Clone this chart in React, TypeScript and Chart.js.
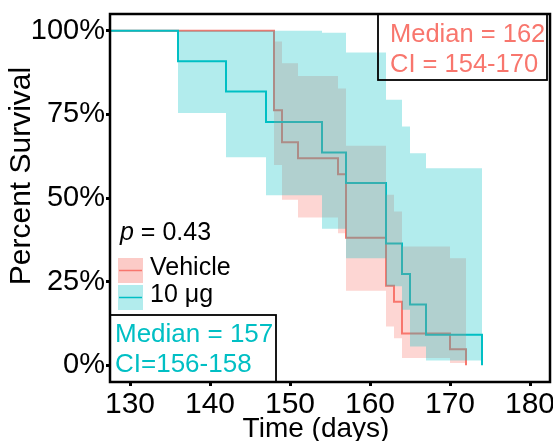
import React, { useEffect, useRef } from 'react';
import { Chart, registerables } from 'chart.js';

Chart.register(...registerables);

// ---- axis ticks ----
const xTicks = [130, 140, 150, 160, 170, 180];
const yTicks = [0, 25, 50, 75, 100];

// ---- Kaplan-Meier steps: event times (days) and survival after each step (%) ----
const vehicleTimes = [148, 149, 151, 156, 157, 162, 163, 164, 170, 172];
const vehicleSurvival = [76.2, 66.7, 61.9, 57.1, 38.1, 23.8, 19.0, 9.5, 4.8, 0];
// confidence band per interval [t_i, t_{i+1})
const vehicleUpper = [96.8, 90.3, 86.5, 82.7, 65.6, 51.0, 46.0, 35.5, 32.0];
const vehicleLower = [59.9, 49.5, 44.2, 39.5, 22.3, 11.6, 8.1, 2.2, 0.7];

const doseTimes = [136, 142, 147, 154, 157, 162, 164, 165, 167, 174];
const doseSurvival = [90.9, 81.8, 72.7, 63.6, 54.5, 36.4, 27.3, 18.2, 9.1, 0];
const doseUpper = [100, 100, 100, 99.4, 93.5, 79.4, 71.4, 63.4, 58.9];
const doseLower = [75.4, 62.2, 50.8, 40.8, 32.0, 23.6, 16.6, 5.6, 1.4];

// ---- text ----
const vehicleLabel = 'Vehicle';
const doseLabel = '10 μg';
const pValueText = ' = 0.43';
const vehicleMedianLines = ['Median = 162', 'CI = 154-170'];
const doseMedianLines = ['Median = 157', 'CI=156-158'];
const xTitle = 'Time (days)';
const yTitle = 'Percent Survival';

const FONT = "'Liberation Sans', Arial, Helvetica, sans-serif";
const RED = '#F8766D';
const CYAN = '#00BFC4';
const RED_FILL = 'rgba(248,118,109,0.3)';
const CYAN_FILL = 'rgba(0,191,196,0.3)';

const curve = (times: number[], surv: number[]) => [
  { x: 0, y: 100 },
  ...times.map((t, i) => ({ x: t, y: surv[i] })),
];
const band = (times: number[], vals: number[]) => [
  ...vals.map((v, i) => ({ x: times[i], y: v })),
  { x: times[times.length - 1], y: vals[vals.length - 1] },
];

export default function App() {
  const ref = useRef<HTMLCanvasElement>(null);

  useEffect(() => {
    const canvas = ref.current;
    if (!canvas) return;

    const annotations = {
      id: 'annotations',
      afterDraw(chart: any) {
        const ctx = chart.ctx as CanvasRenderingContext2D;
        const a = chart.chartArea;
        ctx.save();

        // panel frame
        ctx.strokeStyle = '#000';
        ctx.lineWidth = 2.5;
        ctx.strokeRect(a.left, a.top, a.right - a.left, a.bottom - a.top);

        // top-right median box (vehicle colour)
        ctx.lineWidth = 1.8;
        const trRight = a.right - 3;
        const trLeft = trRight - 169;
        ctx.strokeRect(trLeft, a.top, trRight - trLeft, 66);
        ctx.font = `25.5px ${FONT}`;
        ctx.textAlign = 'left';
        ctx.textBaseline = 'alphabetic';
        ctx.fillStyle = RED;
        ctx.fillText(vehicleMedianLines[0], trLeft + 12, a.top + 28);
        ctx.fillText(vehicleMedianLines[1], trLeft + 12, a.top + 58);

        // bottom-left median box (dose colour)
        const blLeft = a.left;
        const blRight = a.left + 166;
        const blTop = a.bottom - 67;
        ctx.strokeStyle = '#000';
        ctx.strokeRect(blLeft, blTop, blRight - blLeft, a.bottom - blTop);
        ctx.fillStyle = CYAN;
        ctx.font = `26px ${FONT}`;
        ctx.fillText(doseMedianLines[0], blLeft + 5, blTop + 27);
        ctx.fillText(doseMedianLines[1], blLeft + 5, blTop + 57);

        // p value
        ctx.fillStyle = '#000';
        ctx.font = `italic 25px ${FONT}`;
        const px = a.left + 10;
        const py = 240;
        ctx.fillText('p', px, py);
        const pw = ctx.measureText('p').width;
        ctx.font = `25px ${FONT}`;
        ctx.fillText(pValueText, px + pw, py);

        // legend
        const keys = [
          { label: vehicleLabel, fill: 'rgba(248,118,109,0.38)', line: RED, top: 258 },
          { label: doseLabel, fill: CYAN_FILL, line: CYAN, top: 285 },
        ];
        ctx.font = `25px ${FONT}`;
        keys.forEach((k) => {
          const kx = a.left + 8;
          ctx.fillStyle = k.fill;
          ctx.fillRect(kx, k.top, 25, 25);
          ctx.strokeStyle = k.line;
          ctx.lineWidth = 1.5;
          ctx.beginPath();
          ctx.moveTo(kx + 1, k.top + 12.5);
          ctx.lineTo(kx + 24, k.top + 12.5);
          ctx.stroke();
          ctx.fillStyle = '#000';
          ctx.fillText(k.label, kx + 32, k.top + 17);
        });

        // axis titles
        ctx.fillStyle = '#000';
        ctx.textAlign = 'center';
        ctx.textBaseline = 'middle';
        ctx.font = `28px ${FONT}`;
        ctx.fillText(xTitle, 316, 429);
        ctx.font = `30px ${FONT}`;
        ctx.translate(22, 176);
        ctx.rotate(-Math.PI / 2);
        ctx.fillText(yTitle, 0, 0);
        ctx.restore();
      },
    };

    const chart = new Chart(canvas, {
      type: 'line',
      data: {
        datasets: [
          {
            label: vehicleLabel,
            data: curve(vehicleTimes, vehicleSurvival),
            stepped: 'before',
            borderColor: RED,
            borderWidth: 2,
            pointRadius: 0,
            fill: false,
            order: 4,
          },
          {
            label: doseLabel,
            data: curve(doseTimes, doseSurvival),
            stepped: 'before',
            borderColor: CYAN,
            borderWidth: 2,
            pointRadius: 0,
            fill: false,
            order: 3,
          },
          {
            label: 'vehicle upper',
            data: band(vehicleTimes, vehicleUpper),
            stepped: 'before',
            borderWidth: 0,
            borderColor: 'rgba(0,0,0,0)',
            pointRadius: 0,
            backgroundColor: RED_FILL,
            fill: '+1',
            order: 2,
          },
          {
            label: 'vehicle lower',
            data: band(vehicleTimes, vehicleLower),
            stepped: 'before',
            borderWidth: 0,
            borderColor: 'rgba(0,0,0,0)',
            pointRadius: 0,
            fill: false,
            order: 2,
          },
          {
            label: 'dose upper',
            data: band(doseTimes, doseUpper),
            stepped: 'before',
            borderWidth: 0,
            borderColor: 'rgba(0,0,0,0)',
            pointRadius: 0,
            backgroundColor: CYAN_FILL,
            fill: '+1',
            order: 1,
          },
          {
            label: 'dose lower',
            data: band(doseTimes, doseLower),
            stepped: 'before',
            borderWidth: 0,
            borderColor: 'rgba(0,0,0,0)',
            pointRadius: 0,
            fill: false,
            order: 1,
          },
        ],
      },
      options: {
        animation: false,
        responsive: true,
        maintainAspectRatio: false,
        layout: { padding: { top: 14, right: 3, left: 0, bottom: 0 } },
        plugins: {
          legend: { display: false },
          tooltip: { enabled: false },
        },
        scales: {
          x: {
            type: 'linear',
            min: 127.5,
            max: 182.5,
            afterBuildTicks: (s: any) => {
              s.ticks = xTicks.map((v) => ({ value: v }));
            },
            afterFit: (s: any) => {
              s.height = 59;
              s.paddingLeft = 0;
              s.paddingRight = 0;
            },
            grid: {
              display: true,
              drawOnChartArea: false,
              drawTicks: true,
              tickLength: 4,
              tickWidth: 3,
              tickColor: '#000',
            },
            border: { display: false },
            ticks: {
              color: '#000',
              font: { size: 30, family: FONT },
              padding: 1,
              maxRotation: 0,
              minRotation: 0,
              autoSkip: false,
              callback: (v: any) => String(v),
            },
          },
          y: {
            type: 'linear',
            min: -5,
            max: 105,
            afterBuildTicks: (s: any) => {
              s.ticks = yTicks.map((v) => ({ value: v }));
            },
            afterFit: (s: any) => {
              s.width = 110;
              s.paddingTop = 0;
              s.paddingBottom = 0;
            },
            grid: {
              display: true,
              drawOnChartArea: false,
              drawTicks: true,
              tickLength: 4,
              tickWidth: 3,
              tickColor: '#000',
            },
            border: { display: false },
            ticks: {
              color: '#000',
              font: { size: 29, family: FONT, lineHeight: 0.8 },
              padding: 1,
              autoSkip: false,
              callback: (v: any) => `${v}%`,
            },
          },
        },
      },
      plugins: [annotations],
    });

    return () => chart.destroy();
  }, []);

  return (
    <div
      style={{
        position: 'fixed',
        left: 0,
        top: 0,
        width: 553,
        height: 441,
        background: '#fff',
      }}
    >
      <canvas ref={ref} />
    </div>
  );
}
